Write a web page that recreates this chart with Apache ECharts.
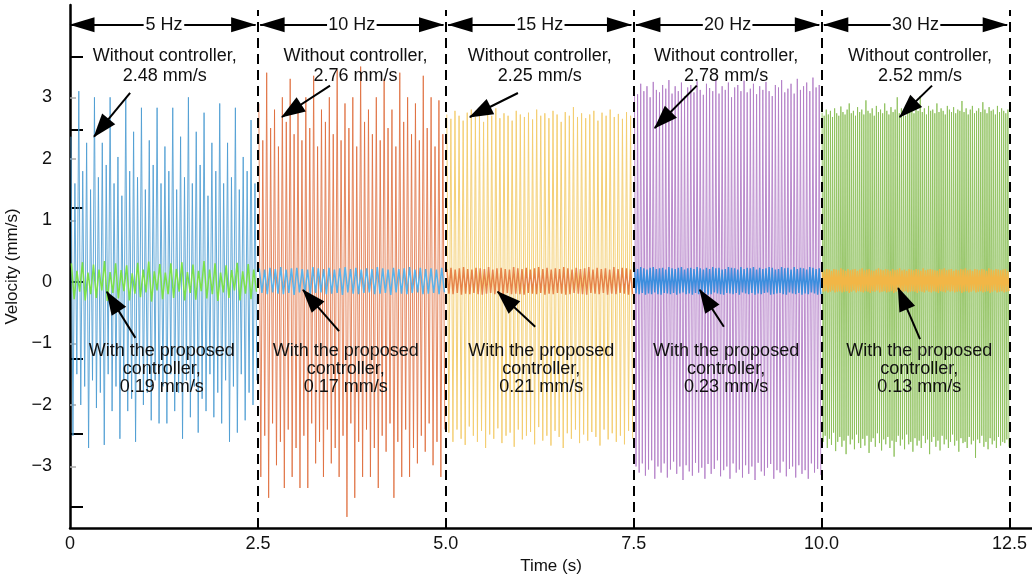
<!DOCTYPE html>
<html>
<head>
<meta charset="utf-8">
<script src="https://cdn.jsdelivr.net/npm/echarts@6/dist/echarts.min.js"></script>
<style>html,body{margin:0;padding:0;background:#fff}#c{width:1032px;height:581px}</style>
</head>
<body>
<div id="c"></div>
<script>
// ---------- data ----------
const freqLabels = ['5 Hz', '10 Hz', '15 Hz', '20 Hz', '30 Hz'];
const rmsWithout = ['2.48', '2.76', '2.25', '2.78', '2.52'];
const rmsWith = ['0.19', '0.17', '0.21', '0.23', '0.13'];
const xTickValues = [0, 2.5, 5, 7.5, 10, 12.5];
const yTickValues = [-3, -2, -1, 0, 1, 2, 3];
const yLongTicks = [-3.66, -2.47, -1.25, 0, 1.2, 2.48, 3.66];

// Without controller: successive positive / negative extremes per segment
const u1Up = [2.36,1.6,3.1,1.8,2.26,1.5,3.0,1.7,2.26,1.9,3.0,1.6,2.03,1.4,3.0,1.8,2.44,1.7,2.83,1.5,2.3,1.9,2.83,1.6,2.2,1.8,2.83,1.5,2.36,1.7,3.0,1.6,2.44,1.9,2.75,1.4,2.26,1.8,2.9,1.6,2.26,1.7,2.83,1.5,2.03,1.8,2.63,1.6];
const u1Dn = [-2.5,-1.5,-2.0,-1.7,-2.7,-1.6,-2.05,-1.8,-2.65,-1.5,-2.1,-1.7,-2.55,-1.6,-2.1,-1.9,-2.6,-1.5,-2.0,-1.8,-2.25,-1.6,-2.3,-1.7,-2.3,-1.5,-2.1,-1.8,-2.55,-1.6,-2.2,-1.7,-2.45,-1.9,-2.1,-1.5,-2.2,-1.8,-2.3,-1.6,-2.6,-1.7,-2.45,-1.5,-2.25,-1.8,-2.0,-1.6];
const u2Up = [2.9,2.3,3.4,2.5,2.8,2.2,3.0,2.6,3.3,2.4,2.8,2.3,3.0,2.5,3.35,2.2,2.8,2.6,3.0,2.4,3.45,2.3,2.9,2.5,3.0,2.2,3.5,2.6,2.8,2.4,3.0,2.3,3.3,2.5,2.8,2.2,3.4,2.6,3.0,2.4,2.9,2.3,3.35,2.5,3.0,2.2,2.95,2.4];
const u2Dn = [-3.17,-2.5,-3.51,-2.3,-2.98,-2.6,-3.35,-2.4,-3.17,-2.7,-3.35,-2.5,-3.35,-2.3,-2.95,-2.6,-3.17,-2.4,-2.95,-2.7,-3.17,-2.5,-3.82,-2.3,-3.51,-2.6,-3.17,-2.4,-3.17,-2.7,-3.35,-2.5,-2.76,-2.3,-3.51,-2.6,-3.17,-2.4,-3.17,-2.7,-2.95,-2.5,-2.76,-2.3,-2.98,-2.6,-3.17,-2.4];
const u3Up = [2.72,2.65,2.78,2.7,2.62,2.75,2.8,2.68,2.72,2.6,2.76,2.7,2.82,2.66,2.74,2.7,2.62,2.78,2.72,2.68,2.75,2.64,2.8,2.7,2.74,2.66,2.78,2.72,2.6,2.76,2.7,2.84,2.68,2.74,2.66,2.72,2.78,2.62,2.75,2.7,2.8,2.68,2.73,2.65,2.76,2.7];
const u3Dn = [-2.45,-2.6,-2.4,-2.55,-2.65,-2.35,-2.5,-2.6,-2.42,-2.7,-2.48,-2.55,-2.38,-2.62,-2.5,-2.45,-2.68,-2.4,-2.56,-2.5,-2.44,-2.64,-2.36,-2.58,-2.5,-2.66,-2.42,-2.52,-2.7,-2.46,-2.55,-2.4,-2.62,-2.48,-2.58,-2.44,-2.52,-2.66,-2.4,-2.56,-2.46,-2.6,-2.5,-2.64,-2.42,-2.55];
const u4Up = [3.15,3.05,3.22,3.1,3.18,3.0,3.25,3.12,3.08,3.2,3.14,3.28,3.06,3.18,3.1,3.24,3.02,3.16,3.2,3.08,3.26,3.12,3.04,3.22,3.15,3.1,3.3,3.06,3.18,3.12,3.24,3.0,3.16,3.2,3.1,3.27,3.08,3.14,3.22,3.05,3.18,3.12,3.25,3.1,3.02,3.2,3.16,3.28,3.08,3.14,3.22,3.06,3.3,3.12,3.18,3.24,3.1,3.32,3.16,3.2];
const u4Dn = [-3.0,-3.1,-2.95,-3.15,-3.05,-2.9,-3.2,-3.0,-3.1,-2.95,-3.18,-3.05,-2.92,-3.12,-3.0,-3.22,-2.98,-3.08,-3.15,-2.94,-3.1,-3.02,-3.2,-2.96,-3.12,-3.04,-2.9,-3.16,-3.06,-3.0,-3.2,-2.95,-3.1,-3.05,-3.18,-2.98,-3.12,-3.0,-3.22,-2.94,-3.08,-3.15,-3.02,-2.96,-3.2,-3.06,-3.1,-2.92,-3.16,-3.04,-3.0,-3.18,-2.98,-3.12,-3.06,-3.2,-2.95,-3.1,-3.04,-3.14];
const u5Up = [2.75,2.7,2.8,2.72,2.78,2.68,2.82,2.74,2.7,2.85,2.76,2.72,2.8,2.9,2.74,2.78,2.7,2.84,2.76,2.8,2.72,2.95,2.78,2.74,2.82,2.7,2.86,2.76,2.8,2.74,2.9,2.78,2.72,2.84,2.76,2.8,3.0,2.74,2.82,2.78,2.7,2.88,2.76,2.8,2.74,2.84,2.78,3.02,2.76,2.82,2.72,2.86,2.78,2.8,2.74,2.9,2.76,2.82,2.78,2.72,2.86,2.8,2.76,2.84,2.74,2.8,2.78,2.94,2.76,2.82,2.72,2.8,2.86,2.74,2.78,2.82,2.76,2.92,2.8,2.74,2.84,2.78,2.8,2.72,2.86,2.76,2.82,2.78,2.74,2.8];
const u5Dn = [-2.6,-2.5,-2.7,-2.55,-2.65,-2.45,-2.75,-2.6,-2.52,-2.68,-2.58,-2.8,-2.5,-2.64,-2.56,-2.72,-2.48,-2.62,-2.7,-2.55,-2.66,-2.5,-2.78,-2.6,-2.54,-2.68,-2.46,-2.62,-2.74,-2.56,-2.64,-2.52,-2.7,-2.58,-2.84,-2.6,-2.5,-2.66,-2.56,-2.72,-2.48,-2.64,-2.6,-2.76,-2.54,-2.66,-2.58,-2.7,-2.5,-2.62,-2.56,-2.8,-2.6,-2.52,-2.68,-2.58,-2.74,-2.5,-2.64,-2.56,-2.7,-2.6,-2.48,-2.66,-2.58,-2.76,-2.54,-2.62,-2.6,-2.7,-2.52,-2.64,-2.58,-2.86,-2.56,-2.62,-2.5,-2.68,-2.6,-2.72,-2.54,-2.64,-2.58,-2.7,-2.52,-2.66,-2.6,-2.62,-2.56,-2.68];

// With the proposed controller
const c1Up = [.3,.18,.32,.15,.28,.2,.34,.16,.3,.19,.27,.14,.31,.2,.33,.17,.29,.15,.3,.21,.32,.16,.28,.18,.34,.2,.3,.15,.27,.19,.31,.17,.29,.2];
const c1Dn = [-.28,-.16,-.3,-.2,-.26,-.14,-.31,-.18,-.27,-.15,-.3,-.19,-.25,-.17,-.32,-.14,-.28,-.2,-.26,-.16,-.3,-.18,-.29,-.15,-.27,-.2,-.31,-.17,-.26,-.14,-.3,-.19,-.28,-.16];
const c2Up = [.22,.2,.23,.21,.24,.2,.22,.23,.21,.2,.24,.22,.21,.23,.2,.22,.24,.21,.23,.2,.22,.21,.24,.22,.2,.23,.21,.22,.24,.2,.23,.21,.22,.2,.23];
const c2Dn = [-.18,-.2,-.17,-.19,-.2,-.18,-.21,-.17,-.19,-.2,-.18,-.17,-.2,-.19,-.18,-.21,-.17,-.19,-.2,-.18,-.17,-.2,-.19,-.18,-.21,-.17,-.19,-.2,-.18,-.17,-.2,-.19,-.18,-.2,-.17];
const c3Up = [.21,.23,.2,.22,.24,.21,.2,.23,.22,.21,.24,.2,.22,.23,.21,.2,.24,.22,.21,.23,.2,.22,.24,.21,.23,.2,.22,.21,.24,.22,.2,.23,.21,.22,.24,.2,.23,.21,.22,.2,.24,.21,.23,.22,.2];
const c3Dn = [-.19,-.2,-.18,-.21,-.19,-.2,-.18,-.2,-.21,-.19,-.18,-.2,-.19,-.21,-.18,-.2,-.19,-.2,-.21,-.18,-.19,-.2,-.18,-.21,-.19,-.2,-.18,-.19,-.21,-.2,-.18,-.19,-.2,-.21,-.18,-.19,-.2,-.18,-.21,-.19,-.2,-.18,-.19,-.21,-.2];
const c4Up = [.23,.21,.24,.22,.2,.23,.24,.21,.22,.23,.2,.24,.22,.21,.23,.24,.2,.22,.23,.21,.24,.22,.2,.23,.21,.24,.22,.23,.2,.21,.24,.23,.22,.2,.24,.21,.23,.22,.24,.2,.23,.21,.22,.24,.23,.2,.21,.24,.22,.23,.2,.24,.21,.23,.22,.2,.24,.23,.21,.22];
const c4Dn = [-.19,-.2,-.18,-.21,-.19,-.2,-.17,-.2,-.21,-.18,-.19,-.2,-.18,-.21,-.19,-.17,-.2,-.19,-.21,-.18,-.2,-.19,-.18,-.21,-.2,-.17,-.19,-.2,-.21,-.18,-.19,-.2,-.18,-.21,-.17,-.19,-.2,-.18,-.21,-.19,-.2,-.18,-.17,-.21,-.2,-.19,-.18,-.2,-.21,-.17,-.19,-.2,-.18,-.21,-.19,-.2,-.17,-.19,-.21,-.2];
const c5Up = [.2,.19,.21,.2,.18,.21,.2,.19,.22,.2,.18,.21,.19,.2,.21,.18,.2,.22,.19,.2,.21,.19,.18,.2,.22,.2,.19,.21,.2,.18,.21,.19,.2,.22,.19,.2,.18,.21,.2,.19,.21,.2,.18,.22,.19,.2,.21,.2,.19,.18,.21,.2,.22,.19,.2,.21,.18,.2,.19,.21,.2,.22,.19,.2,.18,.21,.2,.19,.21,.2,.18,.22,.2,.19,.21,.2,.19,.2,.21,.18];
const c5Dn = [-.16,-.15,-.17,-.16,-.14,-.17,-.16,-.15,-.17,-.16,-.15,-.18,-.16,-.14,-.17,-.15,-.16,-.17,-.15,-.16,-.18,-.15,-.16,-.14,-.17,-.16,-.15,-.17,-.16,-.15,-.18,-.16,-.14,-.17,-.16,-.15,-.17,-.16,-.15,-.16,-.18,-.15,-.16,-.17,-.14,-.16,-.17,-.15,-.16,-.18,-.15,-.16,-.17,-.14,-.16,-.15,-.17,-.16,-.15,-.18,-.16,-.15,-.17,-.16,-.14,-.17,-.16,-.15,-.17,-.16,-.15,-.18,-.16,-.14,-.17,-.16,-.15,-.17,-.16,-.15];

// ---------- layout / style ----------
const SEG = 2.5;
const FONT = '"Liberation Sans", Arial, Helvetica, sans-serif';
const uColors = ['rgba(76,156,210,0.85)','rgba(222,106,56,0.8)','rgba(243,206,112,0.95)','rgba(176,122,198,0.85)','rgba(138,190,86,0.85)'];
const cColors = ['#7be04a','#5ab2ea','#e6844a','#3c8ede','#f2b646'];
const uSets = [[u1Up,u1Dn],[u2Up,u2Dn],[u3Up,u3Dn],[u4Up,u4Dn],[u5Up,u5Dn]];
const cSets = [[c1Up,c1Dn],[c2Up,c2Dn],[c3Up,c3Dn],[c4Up,c4Dn],[c5Up,c5Dn]];

// annotation placement (data coordinates)
const topTextPos = [[1.26,3.51],[3.80,3.51],[6.25,3.51],[8.73,3.51],[11.31,3.51]];
const topArrow = [[[0.80,3.07],[0.32,2.36]],[[3.46,3.19],[2.82,2.68]],[[5.96,3.07],[5.32,2.68]],[[8.34,3.19],[7.78,2.50]],[[11.47,3.19],[11.04,2.68]]];
const botTextPos = [[1.22,-1.41],[3.67,-1.41],[6.27,-1.41],[8.73,-1.41],[11.30,-1.41]];
const botArrow = [[[0.87,-0.91],[0.49,-0.16]],[[3.58,-0.80],[3.10,-0.13]],[[6.19,-0.73],[5.69,-0.16]],[[8.70,-0.73],[8.38,-0.13]],[[11.31,-0.93],[11.02,-0.10]]];
const freqY = 4.18;
const freqGap = [0.27,0.33,0.33,0.33,0.33];
const freqInset = 0.03;

function zigzag(k, ups, dns) {
  const n = Math.min(ups.length, dns.length);
  const dt = SEG / (2 * n);
  const out = [];
  for (let i = 0; i < n; i++) {
    out.push([k * SEG + (2 * i + 0.5) * dt, ups[i]]);
    out.push([k * SEG + (2 * i + 1.5) * dt, dns[i]]);
  }
  return out;
}

const series = [];
uSets.forEach((s, k) => series.push({
  type: 'line', data: zigzag(k, s[0], s[1]), symbol: 'none', silent: true, z: 2,
  lineStyle: { width: 1, color: uColors[k] }
}));
cSets.forEach((s, k) => series.push({
  type: 'line', data: zigzag(k, s[0], s[1]), symbol: 'none', silent: true, z: 3,
  lineStyle: { width: 1.5, color: cColors[k] }
}));

const lines = [];
const headUp = { symbol: 'triangle', symbolSize: [15, 25], symbolOffset: [0, 12] };
// dashed separators
for (let k = 1; k <= 5; k++) {
  lines.push([{ coord: [k * SEG, -4], symbol: 'none' }, { coord: [k * SEG, 4.42], symbol: 'none',
    lineStyle: { type: [10, 6], width: 2, color: '#000' } }]);
}
// frequency arrows
freqLabels.forEach((f, k) => {
  const mid = k * SEG + SEG / 2;
  lines.push([Object.assign({ coord: [k * SEG + (k ? freqInset : 0), freqY] }, headUp), { coord: [mid - freqGap[k], freqY], symbol: 'none' }]);
  lines.push([{ coord: [mid + freqGap[k], freqY], symbol: 'none' }, Object.assign({ coord: [(k + 1) * SEG - freqInset, freqY] }, headUp)]);
});
// annotation arrows
const annHead = { symbol: 'triangle', symbolSize: [17, 24], symbolOffset: [0, 11] };
topArrow.concat(botArrow).forEach(a => {
  lines.push([{ coord: a[0], symbol: 'none' }, Object.assign({ coord: a[1] }, annHead)]);
});

const points = [];
freqLabels.forEach((f, k) => points.push({ coord: [k * SEG + SEG / 2, freqY], value: f,
  label: { formatter: f } }));
rmsWithout.forEach((v, k) => points.push({ coord: topTextPos[k], value: v,
  label: { formatter: 'Without controller,\n' + v + ' mm/s', lineHeight: 20 } }));
rmsWith.forEach((v, k) => points.push({ coord: botTextPos[k], value: v,
  label: { formatter: 'With the proposed\ncontroller,\n' + v + ' mm/s', lineHeight: 18 } }));

series.push({
  type: 'line', data: [], symbol: 'none', z: 10,
  markLine: { silent: true, animation: false, symbol: 'none', label: { show: false },
    lineStyle: { color: '#000', width: 2, type: 'solid' }, emphasis: { disabled: true }, data: lines },
  markPoint: { silent: true, animation: false, symbol: 'circle', symbolSize: 1,
    itemStyle: { color: 'rgba(0,0,0,0)' },
    label: { show: true, position: 'inside', color: '#111', fontSize: 18, fontFamily: FONT, align: 'center', verticalAlign: 'middle' },
    data: points }
});

const chart = echarts.init(document.getElementById('c'), null, { renderer: 'canvas' });
chart.setOption({
  animation: false,
  backgroundColor: '#fff',
  textStyle: { fontFamily: FONT },
  grid: { left: 70, right: 0, top: 5, bottom: 53, containLabel: false, outerBoundsMode: 'none' },
  xAxis: {
    type: 'value', min: 0, max: 12.8,
    axisLine: { show: true, onZero: false, lineStyle: { color: '#000', width: 2.5 } },
    axisTick: { show: false },
    splitLine: { show: false },
    axisLabel: { customValues: xTickValues, formatter: v => v === 0 ? '0' : v.toFixed(1),
      color: '#111', fontSize: 18, fontFamily: FONT, margin: 7 },
    name: 'Time (s)', nameLocation: 'middle', nameGap: 29,
    nameTextStyle: { color: '#111', fontSize: 17, fontFamily: FONT }
  },
  yAxis: [{
    type: 'value', min: -4, max: 4.5,
    axisLine: { show: true, onZero: false, lineStyle: { color: '#000', width: 2.5 } },
    axisTick: { show: true, inside: true, length: 6, customValues: yTickValues, lineStyle: { color: '#aaa', width: 1.5 } },
    splitLine: { show: false },
    axisLabel: { customValues: yTickValues, formatter: v => v < 0 ? '\u2212' + (-v) : String(v),
      color: '#111', fontSize: 18, fontFamily: FONT, margin: 18 },
    name: 'Velocity (mm/s)', nameLocation: 'middle', nameGap: 43,
    nameTextStyle: { color: '#111', fontSize: 17, fontFamily: FONT }
  }, {
    type: 'value', min: -4, max: 4.5, position: 'left',
    axisLine: { show: false },
    axisTick: { show: true, inside: true, length: 13, customValues: yLongTicks, lineStyle: { color: '#000', width: 2 } },
    axisLabel: { show: false },
    splitLine: { show: false }
  }],
  series: series
});
</script>
</body>
</html>
